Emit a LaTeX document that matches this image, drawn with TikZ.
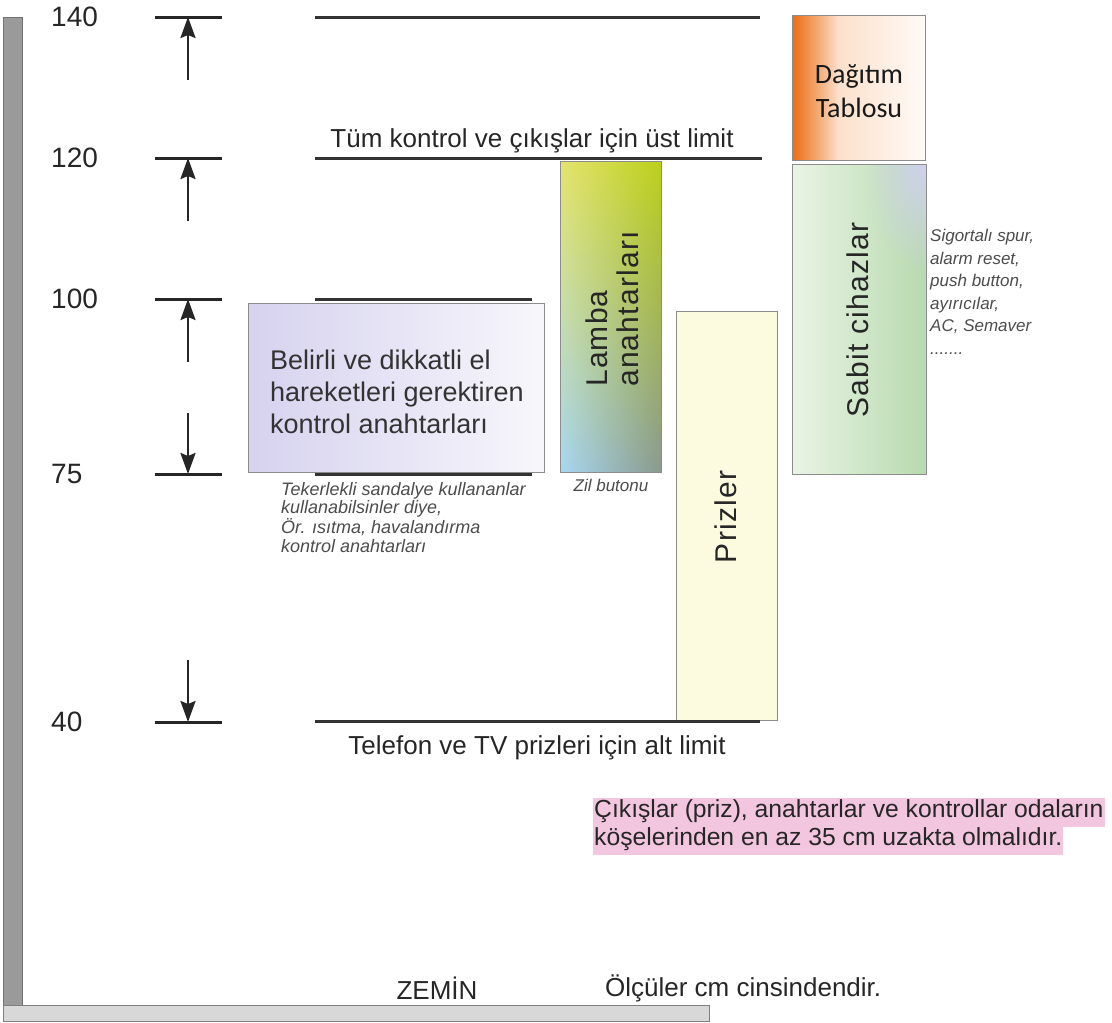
\documentclass[tikz,border=0pt]{standalone}
\usepackage{fontspec}
\setmainfont{Liberation Sans}
\newfontfamily\tablofont{Carlito}
\usetikzlibrary{arrows.meta,fadings}

\newcommand{\fs}[2]{\fontsize{#1}{#2}\selectfont}

\definecolor{wallgray}{HTML}{9A9A9A}
\definecolor{floorgray}{HTML}{D8D8D8}
\definecolor{lavender}{HTML}{D6D2EF}
\definecolor{lavwhite}{HTML}{F7F7FB}
\definecolor{lambatop}{HTML}{E6E46E}
\definecolor{lambamid}{HTML}{E2E78E}
\definecolor{lambabot}{HTML}{A8D8F2}
\definecolor{lambaRtop}{HTML}{BCD11A}
\definecolor{lambaRbot}{HTML}{8A9A8C}
\definecolor{prizcream}{HTML}{FDFBDF}
\definecolor{tabloorange}{HTML}{EC6E14}
\definecolor{tablopeach}{HTML}{F9D3B4}
\definecolor{tablowhite}{HTML}{FFFAF6}
\definecolor{sabitgreen}{HTML}{B7DAAE}
\definecolor{sabittint}{HTML}{EAF4E6}
\definecolor{sabitlav}{HTML}{D0D0F0}
\definecolor{notepink}{HTML}{F3C6E0}

\tikzfading[name=fade blob, inner color=transparent!0, outer color=transparent!100]

\begin{document}
\begin{tikzpicture}[x=1pt, y=-1pt,
    level/.style={font=\fs{28}{32}, text=black!85, anchor=west, inner sep=0},
    tick/.style={line width=3pt, black!85},
    limit/.style={line width=3pt, black!80},
    dimarrow/.style={-{Stealth[length=21pt, width=15pt, inset=3pt]}, line width=2.6pt, black!85},
    zone/.style={draw=black!45, line width=1pt, anchor=north west, inner sep=0, outer sep=0},
    rim/.style={draw=black!45, line width=1pt},
    caption/.style={font=\fs{26}{32}, text=black!85, inner sep=0},
    remark/.style={font=\itshape\fs{18}{18.5}, text=black!70, align=left, inner sep=0, anchor=north west},
    vtext/.style={rotate=90, font=\fs{30}{31}\addfontfeature{LetterSpace=4}, text=black!85, inner sep=0},
    pinknote/.style={anchor=west, fill=notepink, font=\fs{24.7}{28}, text=black!85, inner xsep=1pt, inner ysep=1pt, text height=19pt, text depth=8pt},
  ]
  \useasboundingbox (0,0) rectangle (1112,1023);

  % Wall and floor
  \fill[wallgray, draw=black!55, line width=1pt] (3,17) rectangle (22,1005);
  \fill[floorgray, draw=black!50, line width=1pt] (3,1005) rectangle (709,1021);

  % Height levels
  \foreach \lv/\yy in {140/17,120/158,100/299,75/474,40/722} {
    \node[level] (lbl\lv) at (51,\yy) {\lv};
    \coordinate (tl\lv) at (155,\yy);
    \coordinate (tm\lv) at (188,\yy);
    \coordinate (tr\lv) at (222,\yy);
    \draw[tick] (tl\lv) -- (tr\lv);
  }

  % Dimension arrows
  \coordinate (s140) at (188,80);
  \coordinate (s120) at (188,221);
  \coordinate (s100) at (188,362);
  \coordinate (s75) at (188,413);
  \coordinate (s40) at (188,660);
  \foreach \lv in {140,120,100,75,40}
    \draw[dimarrow] (s\lv) -- (tm\lv);

  % Limit lines
  \coordinate (lim140w) at (315,17);  \coordinate (lim140e) at (760,17);
  \coordinate (lim120w) at (315,158); \coordinate (lim120e) at (762,158);
  \coordinate (lim100w) at (315,299); \coordinate (lim100e) at (532,299);
  \coordinate (lim75w) at (315,474);  \coordinate (lim75e) at (532,474);
  \coordinate (lim40w) at (315,721);  \coordinate (lim40e) at (760,721);
  \draw[limit] (lim140w) -- (lim140e);
  \draw[limit] (lim120w) -- (lim120e);
  \draw[limit] (lim100w) -- (lim100e);
  \draw[limit] (lim75w) -- (lim75e);
  \node[caption] (ustlimit) at (532,141) {Tüm kontrol ve çıkışlar için üst limit};
  \node[caption] (altlimit) at (537,748) {Telefon ve TV prizleri için alt limit};

  % Control switches
  \node[zone, minimum width=296pt, minimum height=169pt, left color=lavender, right color=lavwhite] (hassas) at (248,303) {};
  \node[font=\fs{27}{32}, text=black!80, align=left, anchor=west, inner sep=0] (hassasText) at (270,392) {Belirli ve dikkatli el\\hareketleri gerektiren\\kontrol anahtarları};
  \node[remark] (tekerlekli) at (281,482) {Tekerlekli sandalye kullananlar\\kullanabilsinler diye,\\Ör. ısıtma, havalandırma\\kontrol anahtarları};

  % Light switches
  \node[zone, minimum width=101pt, minimum height=311pt, top color=lambatop, middle color=lambamid, bottom color=lambabot,
    path picture={\shade[top color=lambaRtop, bottom color=lambaRbot, path fading=west] (path picture bounding box.south west) rectangle (path picture bounding box.north east);}] (lamba) at (560,161) {};
  \node[vtext, anchor=west, align=left] (lambaText) at (612,387) {Lamba\\anahtarları};
  \node[remark, font=\itshape\fs{17}{18.5}, anchor=north] (zil) at (611,479) {Zil butonu};

  % Sockets
  \node[zone, minimum width=101pt, minimum height=409pt, fill=prizcream] (priz) at (676,311) {};
  \node[vtext] (prizText) at (726,517) {Prizler};
  \draw[limit] (lim40w) -- (lim40e);

  % Distribution board
  \node[zone, minimum width=133pt, minimum height=145pt, left color=tablopeach, right color=tablowhite] (tablo) at (792,15) {};
  \fill[tabloorange, path fading=east] (tablo.north west) rectangle ([xshift=46pt]tablo.south west);
  \draw[rim] (tablo.north west) rectangle (tablo.south east);
  \node[font=\tablofont\fs{28}{34}, align=center, text=black!90, inner sep=0] (tabloText) at (859,91) {Dağıtım\\Tablosu};

  % Fixed appliances
  \node[zone, minimum width=134pt, minimum height=310pt, left color=sabittint, middle color=white, right color=sabitgreen] (sabit) at (792,164) {};
  \begin{scope}
    \clip (sabit.north west) rectangle (sabit.south east);
    \fill[sabitlav, path fading=fade blob] ([xshift=-60pt, yshift=-110pt]sabit.north east) rectangle ([xshift=60pt, yshift=110pt]sabit.north east);
  \end{scope}
  \draw[rim] (sabit.north west) rectangle (sabit.south east);
  \node[vtext] (sabitText) at (858,320) {Sabit cihazlar};
  \node[remark, font=\itshape\fs{17}{22.5}] (sabitNot) at (930,229) {Sigortalı spur,\\alarm reset,\\push button,\\ayırıcılar,\\AC, Semaver\\.......};

  % Distance note
  \node[pinknote] (not1) at (593,812) {Çıkışlar (priz), anahtarlar ve kontrollar odaların};
  \node[pinknote] (not2) at (593,840) {köşelerinden en az 35 cm uzakta olmalıdır.};

  % Floor labels
  \node[caption] (zemin) at (437,988) {ZEMİN};
  \node[caption, anchor=west] (olcu) at (605,988) {Ölçüler cm cinsindendir.};
\end{tikzpicture}
\end{document}
